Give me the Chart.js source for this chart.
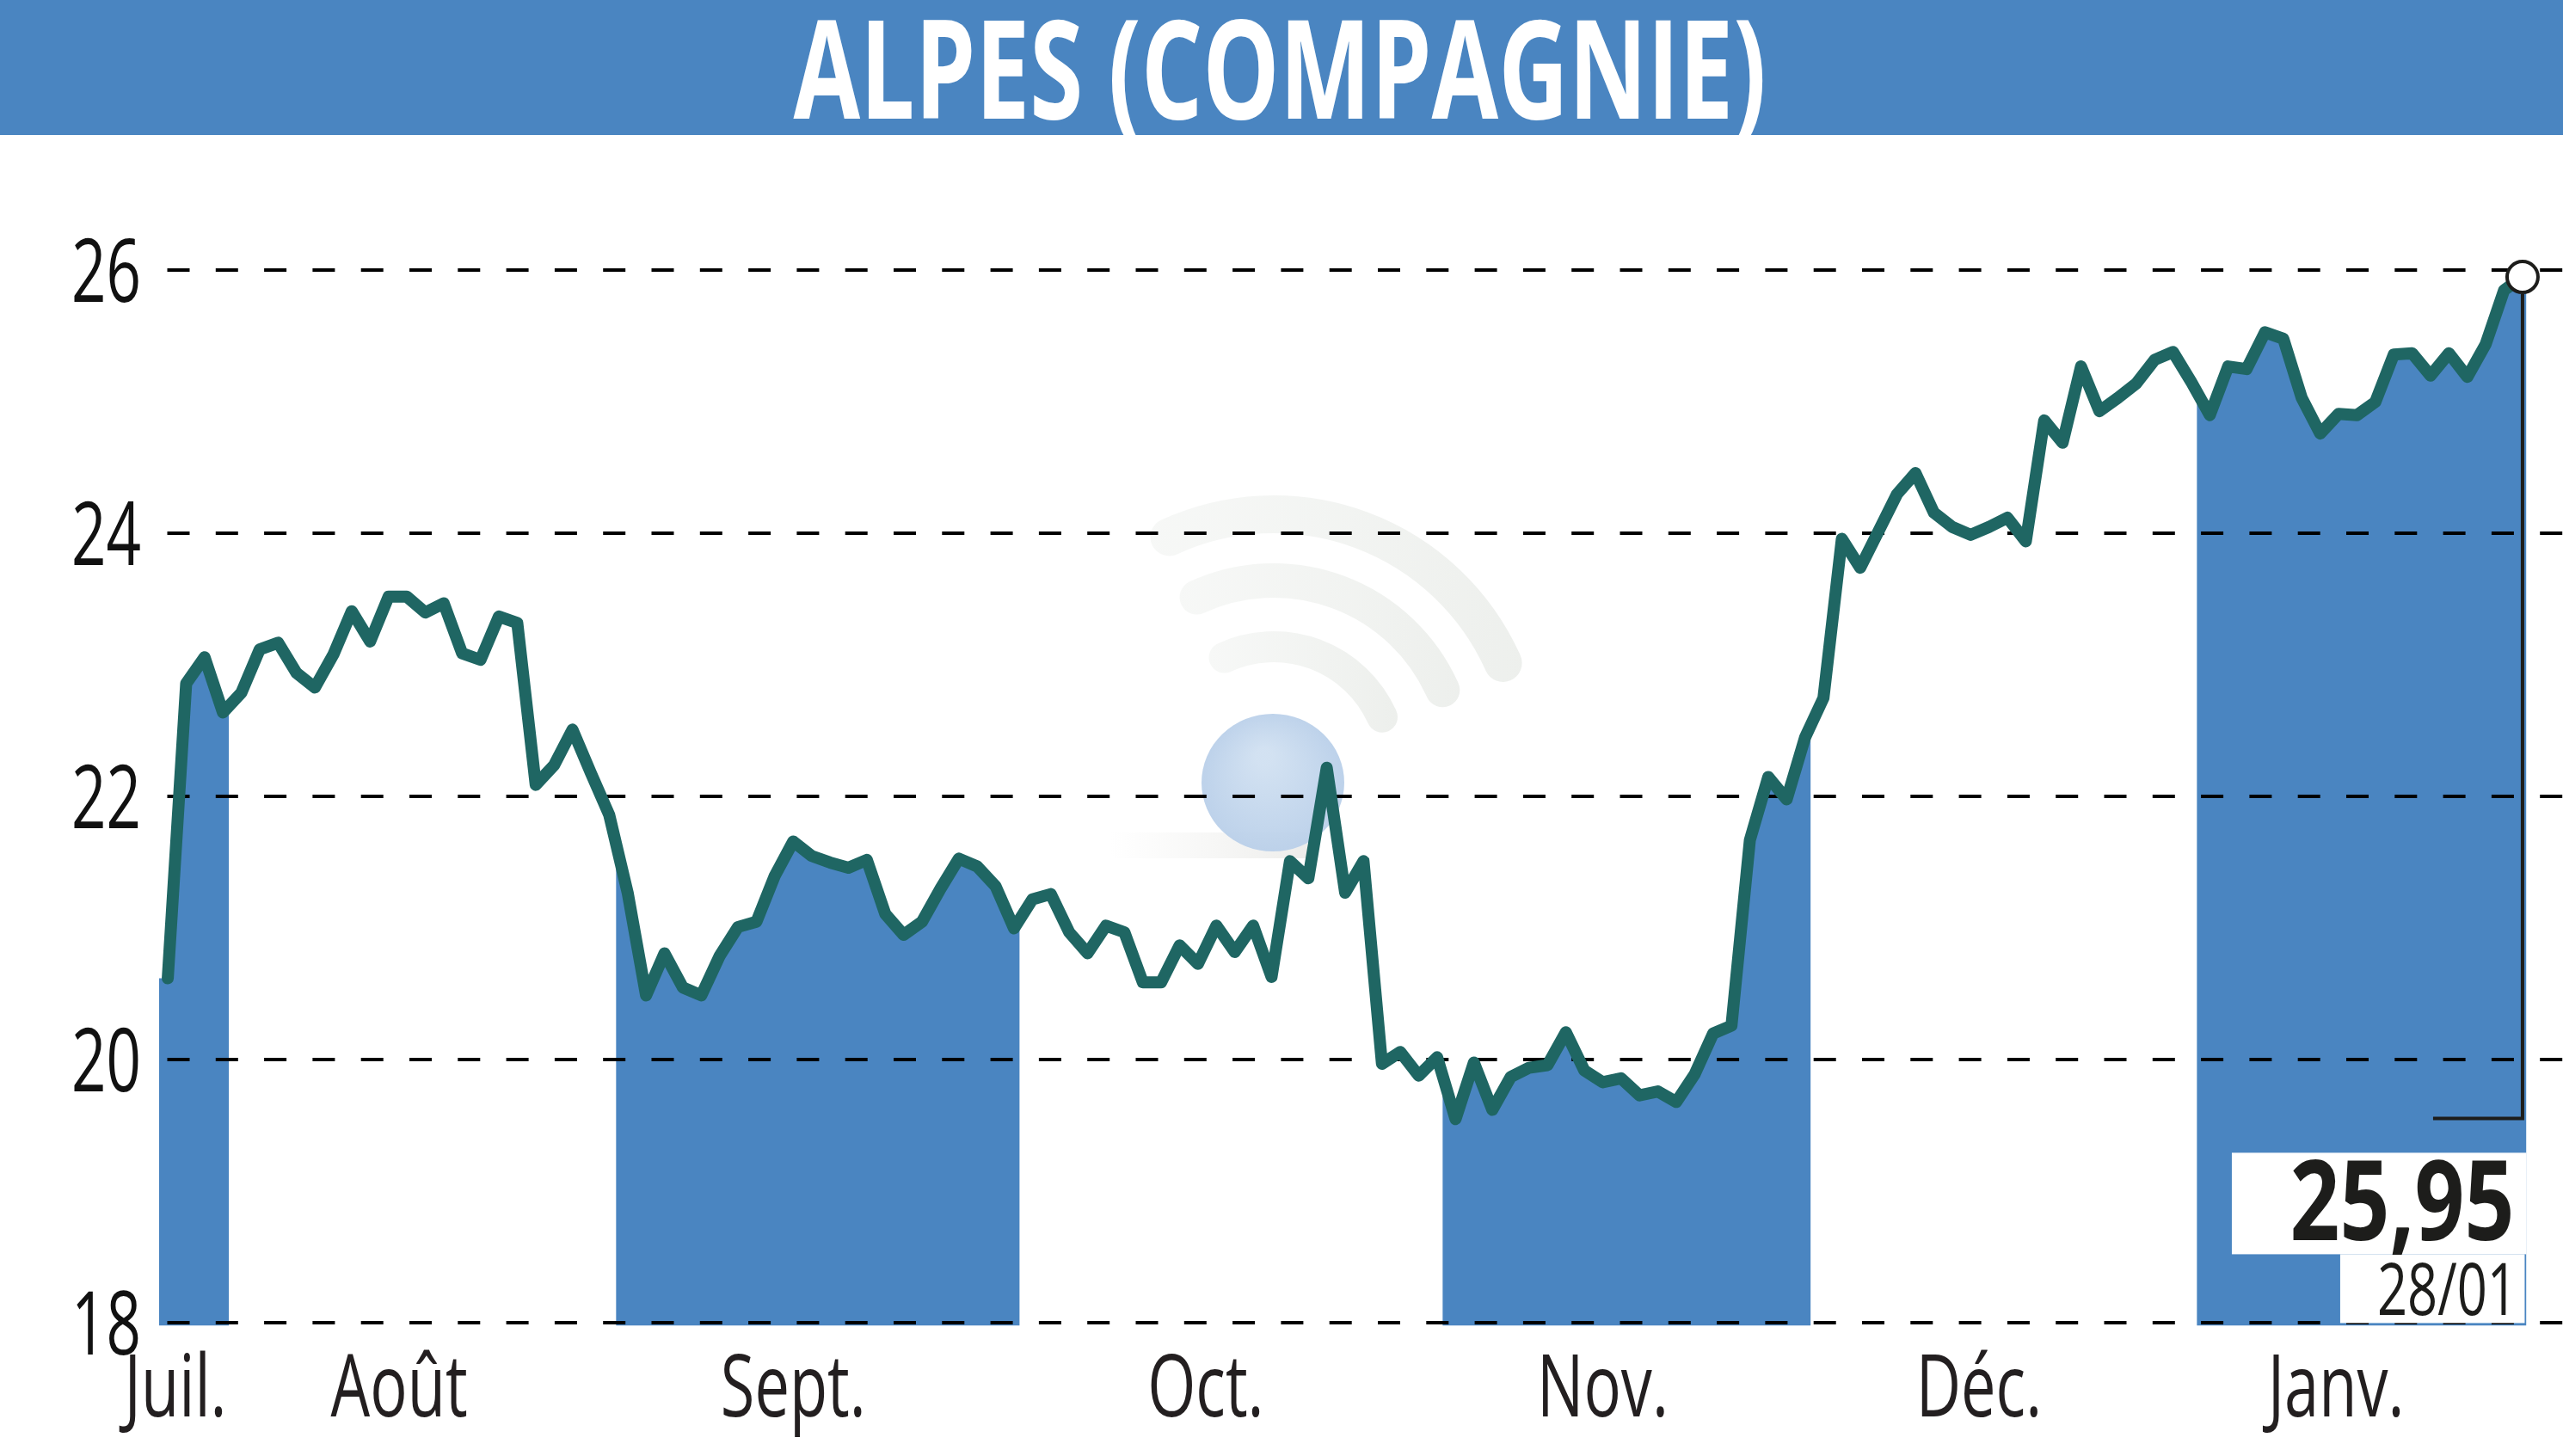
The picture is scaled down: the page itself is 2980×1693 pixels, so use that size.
<!DOCTYPE html>
<html><head><meta charset="utf-8">
<script src="https://cdn.jsdelivr.net/npm/chart.js@4.4.0/dist/chart.umd.min.js"></script>
<style>html,body{margin:0;padding:0;background:#fff;overflow:hidden}canvas{display:block}</style>
</head><body>
<canvas id="c" width="2980" height="1693"></canvas>
<script>
// ---------- data ----------
const chartTitle = 'ALPES (COMPAGNIE)';
const prices = [
  20.62, 22.86, 23.06, 22.64, 22.79, 23.12, 23.17, 22.94, 22.83, 23.08,
  23.41, 23.18, 23.52, 23.52, 23.40, 23.47, 23.09, 23.04, 23.37, 23.32,
  22.09, 22.24, 22.51, 22.18, 21.86, 21.27, 20.49, 20.81, 20.55, 20.49,
  20.79, 21.01, 21.05, 21.40, 21.66, 21.55, 21.50, 21.46, 21.52, 21.11,
  20.95, 21.05, 21.30, 21.53, 21.47, 21.32, 21.00, 21.22, 21.26, 20.97,
  20.81, 21.02, 20.97, 20.59, 20.59, 20.87, 20.73, 21.02, 20.82, 21.02,
  20.63, 21.51, 21.38, 22.22, 21.27, 21.51, 19.97, 20.06, 19.88, 20.02,
  19.55, 19.98, 19.62, 19.87, 19.94, 19.96, 20.21, 19.92, 19.83, 19.86,
  19.73, 19.76, 19.68, 19.89, 20.20, 20.26, 21.67, 22.15, 21.98, 22.45,
  22.75, 23.96, 23.74, 24.02, 24.30, 24.46, 24.16, 24.05, 23.99, 24.05,
  24.12, 23.94, 24.86, 24.69, 25.27, 24.93, 25.03, 25.14, 25.32, 25.38,
  25.15, 24.90, 25.27, 25.25, 25.53, 25.48, 25.03, 24.76, 24.91, 24.90,
  25.00, 25.36, 25.37, 25.20, 25.37, 25.19, 25.44, 25.85, 25.95
];
const yTicks = [18, 20, 22, 24, 26];
const monthLabels = ['Juil.', 'Août', 'Sept.', 'Oct.', 'Nov.', 'Déc.', 'Janv.'];
const monthLabelPos = [0.42, 12.58, 34.0, 56.42, 78.0, 98.45, 117.86];
const monthBounds = [-0.47, 3.32, 24.37, 46.3, 69.3, 89.3, 110.3, 128.2];
const shadedMonths = [0, 2, 4, 6];
const lastValueLabel = '25,95';
const lastDateLabel = '28/01';

// ---------- style ----------
const BLUE = '#4a85c1';
const LINE = '#1f6663';
const INK = '#1d1d1b';
const FONT = '"Open Sans", "Liberation Sans", sans-serif';

const pts = prices.map((v, i) => ({ x: i, y: v }));

function fitScale(ctx, text, font, width) {
  ctx.save(); ctx.font = font; const w = ctx.measureText(text).width; ctx.restore();
  return width / w;
}
function condText(ctx, text, x, y, font, color, align, sx) {
  ctx.save();
  ctx.font = font; ctx.fillStyle = color; ctx.textAlign = align; ctx.textBaseline = 'alphabetic';
  ctx.translate(x, y); ctx.scale(sx, 1); ctx.fillText(text, 0, 0);
  ctx.restore();
}

const decor = {
  id: 'decor',
  beforeDraw(chart) {
    const ctx = chart.ctx, W = chart.width;
    ctx.save();
    ctx.fillStyle = '#fff'; ctx.fillRect(0, 0, W, chart.height);
    ctx.fillStyle = BLUE; ctx.fillRect(0, 0, W, 157);
    const tf = 'bold 160px ' + FONT;
    condText(ctx, chartTitle, 1488, 138, tf, '#fff', 'center', fitScale(ctx, chartTitle, tf, 1131));
    const ys = chart.scales.y, xs = chart.scales.x;
    const yf = '102px ' + FONT;
    const ysx = fitScale(ctx, '26', yf, 81);
    ys.ticks.forEach(t => {
      condText(ctx, String(t.value), 164, ys.getPixelForValue(t.value) + 36.8, yf, '#111', 'right', ysx);
    });
    const xf = '100px ' + FONT;
    const xsx = fitScale(ctx, 'Sept.', xf, 169);
    xs.ticks.forEach((t, i) => {
      condText(ctx, monthLabels[i], xs.getPixelForValue(t.value), 1647, xf, '#231f20', 'center', xsx);
    });
    ctx.restore();
  },
  beforeDatasetsDraw(chart) {
    const ctx = chart.ctx;
    ctx.save();
    const cx = 1481, cy = 890;
    ctx.lineCap = 'round';
    [[292, 44], [215, 40], [138, 36]].forEach(([r, w]) => {
      const g = ctx.createLinearGradient(cx - r, 0, cx + r, 0);
      g.addColorStop(0, 'rgba(228,232,228,0.22)');
      g.addColorStop(1, 'rgba(208,214,206,0.38)');
      ctx.strokeStyle = g; ctx.lineWidth = w;
      ctx.beginPath(); ctx.arc(cx, cy, r, -2.0, -0.42); ctx.stroke();
    });
    const sg = ctx.createLinearGradient(1290, 0, 1520, 0);
    sg.addColorStop(0, 'rgba(225,225,222,0)');
    sg.addColorStop(1, 'rgba(215,215,210,0.45)');
    ctx.fillStyle = sg; ctx.fillRect(1290, 968, 230, 30);
    const bg = ctx.createRadialGradient(1470, 880, 10, 1480, 910, 84);
    bg.addColorStop(0, 'rgba(208,224,241,0.95)');
    bg.addColorStop(1, 'rgba(185,207,233,0.95)');
    ctx.fillStyle = bg;
    ctx.beginPath(); ctx.ellipse(1480, 910, 83, 80, 0, 0, Math.PI * 2); ctx.fill();
    ctx.restore();
  },
  afterDatasetDraw(chart, args) {
    if (args.index !== 1) return;
    const ctx = chart.ctx, xs = chart.scales.x, a = chart.chartArea;
    const els = args.meta.data;
    ctx.save();
    ctx.beginPath();
    shadedMonths.forEach(m => {
      const x0 = xs.getPixelForValue(monthBounds[m]);
      const x1 = xs.getPixelForValue(monthBounds[m + 1]);
      ctx.rect(x0, a.top - 200, x1 - x0, a.bottom - a.top + 203);
    });
    ctx.clip();
    ctx.beginPath();
    ctx.moveTo(a.left, a.bottom + 3);
    ctx.lineTo(a.left, els[0].y);
    els.forEach(p => ctx.lineTo(p.x, p.y));
    ctx.lineTo(els[els.length - 1].x + 10, els[els.length - 1].y);
    ctx.lineTo(els[els.length - 1].x + 10, a.bottom + 3);
    ctx.closePath();
    ctx.fillStyle = BLUE; ctx.fill();
    ctx.restore();
    const ys = chart.scales.y;
    ctx.save();
    ctx.strokeStyle = '#000'; ctx.lineWidth = 4; ctx.setLineDash([26, 30.3]);
    ys.ticks.forEach(t => {
      const y = Math.round(ys.getPixelForValue(t.value));
      ctx.beginPath(); ctx.moveTo(194.5, y); ctx.lineTo(chart.width, y); ctx.stroke();
    });
    ctx.restore();
  },
  afterDatasetsDraw(chart) {
    const ctx = chart.ctx, xs = chart.scales.x, ys = chart.scales.y, a = chart.chartArea;
    const n = prices.length - 1;
    const px = xs.getPixelForValue(n), py = ys.getPixelForValue(prices[n]);
    ctx.save();
    ctx.strokeStyle = INK; ctx.lineWidth = 4; ctx.setLineDash([]);
    const yb = a.bottom - 238;
    ctx.beginPath(); ctx.moveTo(px, py + 20); ctx.lineTo(px, yb); ctx.lineTo(px - 104, yb); ctx.stroke();
    ctx.fillStyle = '#fff';
    ctx.fillRect(px - 338, a.bottom - 198, 342.5, 118);
    ctx.fillRect(px - 212, a.bottom - 80, 214.5, 80);
    const vf = 'bold 129px ' + FONT;
    condText(ctx, lastValueLabel, px - 9.5, a.bottom - 96.6, vf, INK, 'right', fitScale(ctx, lastValueLabel, vf, 261));
    const df = '84px ' + FONT;
    condText(ctx, lastDateLabel, px - 6, a.bottom - 9.4, df, INK, 'right', fitScale(ctx, lastDateLabel, df, 163));
    ctx.restore();
  }
};

new Chart(document.getElementById('c').getContext('2d'), {
  type: 'line',
  data: {
    datasets: [
      {
        label: 'Cours', data: pts, order: 0, clip: false,
        borderColor: LINE, borderWidth: 14, borderJoinStyle: 'round', borderCapStyle: 'round',
        fill: false, tension: 0,
        pointRadius: c => (c.dataIndex === prices.length - 1 ? 18 : 0),
        pointHoverRadius: 0,
        pointBackgroundColor: '#fff', pointBorderColor: INK, pointBorderWidth: 4
      },
      {
        label: 'Zone', data: pts, order: 1,
        showLine: false, fill: false, pointRadius: 0, pointHoverRadius: 0,
        backgroundColor: BLUE, borderColor: BLUE, tension: 0
      }
    ]
  },
  options: {
    responsive: false, animation: false, devicePixelRatio: 1, events: [],
    layout: { autoPadding: false, padding: { top: 161.4, left: 0, right: 0, bottom: 0 } },
    plugins: { legend: { display: false }, tooltip: { enabled: false }, title: { display: false } },
    scales: {
      x: {
        type: 'linear', min: -0.47, max: 130.2,
        grid: { display: false }, border: { display: false }, ticks: { display: false },
        afterBuildTicks: s => { s.ticks = monthLabelPos.map(v => ({ value: v })); },
        afterFit: s => { s.height = 154.6; }
      },
      y: {
        type: 'linear', min: 18, max: 27,
        grid: { display: false }, border: { display: false }, ticks: { display: false },
        afterBuildTicks: s => { s.ticks = yTicks.map(v => ({ value: v })); },
        afterFit: s => { s.width = 185; }
      }
    }
  },
  plugins: [decor]
});
</script>
</body></html>
